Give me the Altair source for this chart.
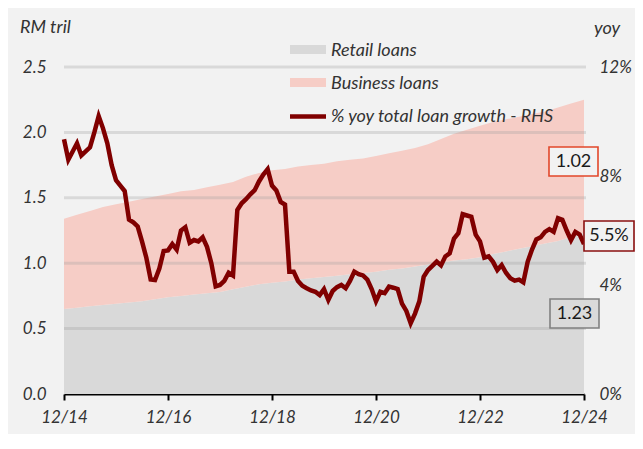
import altair as alt
import pandas as pd

# months since Dec 2014 (0 = 12/14, 120 = 12/24)
months = list(range(0, 121))
quarters = list(range(0, 121, 3))

# RM tril, quarterly
retail = [0.65, 0.66, 0.67, 0.68, 0.69, 0.70, 0.71, 0.725, 0.74, 0.75,
          0.76, 0.77, 0.78, 0.80, 0.82, 0.84, 0.85, 0.86, 0.875, 0.885,
          0.895, 0.905, 0.915, 0.925, 0.935, 0.95, 0.96, 0.975, 0.99, 1.005,
          1.02, 1.03, 1.045, 1.07, 1.09, 1.11, 1.13, 1.15, 1.17, 1.20, 1.23]
business = [0.69, 0.71, 0.73, 0.75, 0.76, 0.77, 0.78, 0.785, 0.79, 0.80,
            0.80, 0.81, 0.82, 0.82, 0.84, 0.85, 0.86, 0.86, 0.865, 0.865,
            0.865, 0.875, 0.875, 0.875, 0.885, 0.89, 0.90, 0.905, 0.92, 0.945,
            0.97, 0.99, 1.005, 1.01, 1.01, 1.01, 1.01, 1.01, 1.02, 1.02, 1.02]

# % yoy total loan growth, monthly
growth = [9.35, 8.6, 8.9, 9.2, 8.75, 8.9, 9.05, 9.6, 10.2, 9.75,
          9.2, 8.4, 7.85, 7.65, 7.45, 6.4, 6.3, 6.15, 5.6, 5.0,
          4.2, 4.18, 4.6, 5.25, 5.27, 5.5, 5.3, 6.0, 6.12, 5.55,
          5.65, 5.6, 5.75, 5.4, 4.8, 3.95, 4.0, 4.15, 4.45, 4.35,
          6.75, 7.0, 7.15, 7.33, 7.48, 7.8, 8.05, 8.25, 7.65, 7.47,
          7.05, 6.95, 4.49, 4.49, 4.15, 3.97, 3.88, 3.8, 3.75, 3.63,
          3.85, 3.45, 3.78, 3.92, 4.0, 3.88, 4.15, 4.49, 4.4, 4.35,
          4.2, 3.85, 3.4, 3.75, 3.7, 3.94, 3.9, 3.85, 3.32, 3.05,
          2.6, 2.95, 3.4, 4.3, 4.55, 4.7, 4.86, 4.72, 5.05, 5.16,
          5.7, 5.9, 6.6, 6.55, 6.5, 5.85, 5.6, 5.0, 5.05, 4.85,
          4.55, 4.73, 4.45, 4.25, 4.16, 4.2, 4.1, 4.85, 5.3, 5.67,
          5.75, 5.95, 6.05, 5.95, 6.45, 6.39, 6.0, 5.65, 5.95, 5.85, 5.5]

series_names = ["Retail loans", "Business loans"]
series_colors = ["#d9d9d9", "#f6cdc6"]
left_ticks = [0, 0.5, 1.0, 1.5, 2.0, 2.5]
grid_vals = [0.5, 1.0, 1.5, 2.0, 2.5]
right_ticks = [0, 4, 8, 12]
x_ticks = [0, 24, 48, 72, 96, 120]

FONT = "Lato"
LINE_RED = "#800000"
LBL = 17

n = len(quarters)
area_df = pd.DataFrame({
    "m": quarters * 2,
    "series": [series_names[0]] * n + [series_names[1]] * n,
    "ord": [0] * n + [1] * n,
    "value": retail + business,
})
line_df = pd.DataFrame({"m": months, "yoy": growth})
grid_df = pd.DataFrame({"g": grid_vals})
one = pd.DataFrame({"a": [0]})

x_enc = alt.X(
    "m:Q",
    scale=alt.Scale(domain=[0, 120], nice=False, zero=False),
    axis=alt.Axis(values=x_ticks, labelExpr="'12/' + (14 + datum.value/12)",
                  title=None, grid=False, domainColor="black", domainWidth=2,
                  tickColor="black", tickWidth=2, tickSize=6, labelPadding=9,
                  labelFlush=False,
                  labelFont=FONT, labelFontStyle="italic", labelFontSize=LBL,
                  labelColor="#333333"),
)

areas = alt.Chart(area_df).mark_area(opacity=1).encode(
    x=x_enc,
    y=alt.Y("value:Q", stack="zero",
            scale=alt.Scale(domain=[0, 2.5], nice=False),
            axis=alt.Axis(values=left_ticks, format=".1f", ticks=False, domain=False,
                          grid=False, labelPadding=18, title=None,
                          labelFont=FONT, labelFontStyle="italic", labelFontSize=LBL,
                          labelColor="#333333")),
    color=alt.Color("series:N", scale=alt.Scale(domain=series_names, range=series_colors),
                    legend=None),
    order=alt.Order("ord:Q"),
)

grid = alt.Chart(grid_df).mark_rule(color="#a0a0a0", opacity=0.3, strokeWidth=3).encode(
    y=alt.Y("g:Q", scale=alt.Scale(domain=[0, 2.5], nice=False), axis=None),
    x=alt.value(0), x2=alt.value(522),
)

line = alt.Chart(line_df).mark_line(color=LINE_RED, strokeWidth=4.5).encode(
    x=alt.X("m:Q", scale=alt.Scale(domain=[0, 120], nice=False, zero=False)),
    y=alt.Y("yoy:Q", scale=alt.Scale(domain=[0, 12], nice=False),
            axis=alt.Axis(orient="right", values=right_ticks,
                          labelExpr="datum.value + '%'", ticks=False, domain=False,
                          grid=False, labelPadding=15, title=None,
                          labelFont=FONT, labelFontStyle="italic", labelFontSize=LBL,
                          labelColor="#333333")),
)


def label(txt, x, y, size=17, italic=True, color="#333333", align="left"):
    return alt.Chart(one).mark_text(
        align=align, baseline="middle", font=FONT,
        fontStyle="italic" if italic else "normal", fontSize=size, color=color
    ).encode(x=alt.value(x), y=alt.value(y), text=alt.value(txt))


def box(x1, x2, y1, y2, fill, stroke):
    return alt.Chart(one).mark_rect(fill=fill, stroke=stroke, strokeWidth=1.6).encode(
        x=alt.value(x1), x2=alt.value(x2), y=alt.value(y1), y2=alt.value(y2))


legend_layers = [
    alt.Chart(one).mark_rect(color=series_colors[0]).encode(
        x=alt.value(226), x2=alt.value(262), y=alt.value(-22), y2=alt.value(-13)),
    label("Retail loans", 267, -16.5, size=18),
    alt.Chart(one).mark_rect(color=series_colors[1]).encode(
        x=alt.value(226), x2=alt.value(262), y=alt.value(11), y2=alt.value(20)),
    label("Business loans", 267, 16.5, size=18),
    alt.Chart(one).mark_rule(color=LINE_RED, strokeWidth=4.5).encode(
        x=alt.value(226), x2=alt.value(262), y=alt.value(49.5)),
    label("% yoy total loan growth - RHS", 267, 50, size=18),
    label("RM tril", -44, -39.5, size=18),
    label("yoy", 530, -38, size=18),
]

annot_layers = [
    box(485, 534, 80, 109, "#f2f2f2", "#e2472a"),
    label("1.02", 509.5, 94.5, size=18, italic=False, color="#1a1a1a", align="center"),
    box(520, 570, 154, 184, "#f2f2f2", "#8b1010"),
    label("5.5%", 545, 169, size=18, italic=False, color="#1a1a1a", align="center"),
    box(486, 535, 232, 261, "#dadada", "#808080"),
    label("1.23", 510.5, 246.5, size=18, italic=False, color="#1a1a1a", align="center"),
]

chart = alt.layer(areas, grid, line, *legend_layers, *annot_layers).resolve_scale(
    y="independent"
).properties(
    width=520, height=327,
    padding={"left": 56, "top": 59, "right": 51, "bottom": 40},
    autosize=alt.AutoSizeParams(type="none"),
).configure(
    background="#f2f2f2",
).configure_view(stroke=None)

chart.save("out.html", embed_options={"renderer": "svg", "actions": False})
